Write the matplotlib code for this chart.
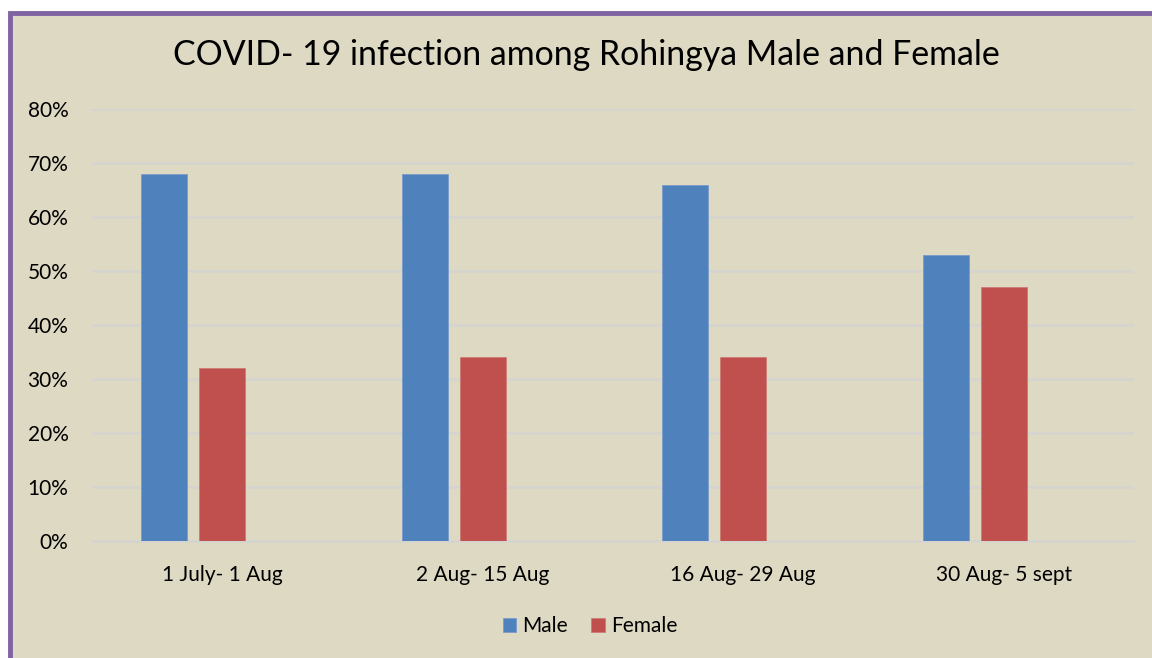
import matplotlib
matplotlib.use("Agg")
import matplotlib.pyplot as plt
from matplotlib.patches import Rectangle
import numpy as np

# data
periods = ["1 July- 1 Aug", "2 Aug- 15 Aug", "16 Aug- 29 Aug", "30 Aug- 5 sept"]
male = [68, 68, 66, 53]
female = [32, 34, 34, 47]
yticks = [0, 10, 20, 30, 40, 50, 60, 70, 80]

BLUE = "#4F81BD"
RED = "#C0504D"
BEIGE = "#DDD9C3"
PURPLE = "#8064A2"
GRID = "#D5D4D0"

plt.rcParams["font.family"] = ["Lato", "DejaVu Sans"]

W, H = 1152, 658
fig = plt.figure(figsize=(W / 100, H / 100), dpi=100)
fig.patch.set_facecolor("white")

# background axes: beige panel with purple top/left border
bg = fig.add_axes([0, 0, 1, 1], zorder=-1)
bg.set_xlim(0, W)
bg.set_ylim(H, 0)
bg.axis("off")
bg.add_patch(Rectangle((9.5, 12.5), W + 50, H + 50, facecolor=BEIGE,
                       edgecolor=PURPLE, linewidth=3.5))

# plot area in pixels: x 92..1134, y 109..541
ax = fig.add_axes([92 / W, 1 - 541 / H, (1134 - 92) / W, (541 - 109) / H])
ax.set_facecolor("none")

x = np.arange(len(periods))
bw = 46 / 260.5
step = 58 / 260.5
ax.bar(x - step, male, width=bw, color=BLUE, edgecolor="#7A9CCB", linewidth=0.6, label="Male", zorder=3)
ax.bar(x, female, width=bw, color=RED, edgecolor="#CE7A77", linewidth=0.6, label="Female", zorder=3)

ax.set_xlim(-0.5, len(periods) - 0.5)
ax.set_ylim(0, 80)
ax.set_yticks(yticks)
ax.set_yticklabels([f"{v}%" for v in yticks], fontsize=15)
ax.set_xticks(x)
ax.set_xticklabels(periods, fontsize=15)
ax.tick_params(axis="both", length=0)
ax.tick_params(axis="y", pad=17)
ax.tick_params(axis="x", pad=17)

ax.grid(axis="y", color=GRID, linewidth=1.8, zorder=0)
for s in ["top", "right", "left"]:
    ax.spines[s].set_visible(False)
ax.spines["bottom"].set_color(GRID)
ax.spines["bottom"].set_linewidth(1.8)

fig.text(586 / W, 1 - 55 / H, "COVID- 19 infection among Rohingya Male and Female",
         ha="center", va="center", fontsize=24.4)

fig.legend(loc="center", bbox_to_anchor=(590 / W, 1 - 626 / H), ncol=2, frameon=False,
           fontsize=15, handlelength=0.65, handleheight=0.65, handletextpad=0.3,
           columnspacing=1.1)

fig.savefig("out.png", dpi=100, facecolor=fig.get_facecolor())
